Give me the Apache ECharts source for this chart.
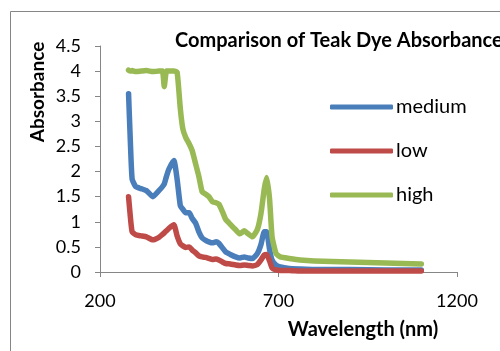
<!DOCTYPE html>
<html>
<head>
<meta charset="utf-8">
<script src="https://cdn.jsdelivr.net/npm/echarts@6/dist/echarts.min.js"></script>
<style>
  html, body { margin: 0; padding: 0; background: #fff; }
  #chart { width: 500px; height: 351px; }
</style>
</head>
<body>
<div id="chart"></div>
<script>
// wavelengths (nm) shared by all three series
var wavelengths = [280, 285, 290, 300, 315, 330, 348, 365, 375, 380, 386, 393, 407, 416, 425, 432, 440, 450, 458, 468, 477, 486, 496, 505, 515, 525, 533, 543, 552, 565, 580, 592, 604, 615, 627, 641, 651, 660, 667, 675, 682, 693, 705, 730, 760, 800, 900, 1000, 1100];

var medium = [3.55, 2.6, 1.85, 1.70, 1.66, 1.62, 1.50, 1.62, 1.70, 1.75, 1.90, 2.05, 2.22, 1.85, 1.32, 1.25, 1.18, 1.18, 1.07, 0.97, 0.80, 0.68, 0.63, 0.60, 0.58, 0.60, 0.57, 0.48, 0.40, 0.35, 0.30, 0.28, 0.30, 0.28, 0.27, 0.37, 0.55, 0.80, 0.80, 0.45, 0.24, 0.14, 0.10, 0.07, 0.06, 0.05, 0.05, 0.04, 0.04];

var low = [1.50, 1.10, 0.80, 0.74, 0.72, 0.70, 0.64, 0.69, 0.75, 0.78, 0.82, 0.87, 0.94, 0.72, 0.56, 0.52, 0.49, 0.50, 0.44, 0.38, 0.32, 0.30, 0.29, 0.27, 0.25, 0.26, 0.24, 0.20, 0.17, 0.16, 0.14, 0.13, 0.14, 0.13, 0.12, 0.15, 0.24, 0.34, 0.35, 0.22, 0.08, 0.04, 0.03, 0.03, 0.02, 0.02, 0.02, 0.02, 0.02];

var high = [4.02, 4.00, 4.01, 3.99, 4.00, 4.01, 3.99, 4.00, 4.00, 3.69, 4.00, 4.00, 4.00, 3.98, 3.25, 2.85, 2.68, 2.55, 2.42, 2.15, 1.90, 1.60, 1.55, 1.50, 1.40, 1.38, 1.35, 1.20, 1.05, 0.95, 0.84, 0.76, 0.82, 0.76, 0.70, 0.85, 1.17, 1.65, 1.88, 1.45, 0.70, 0.37, 0.30, 0.27, 0.24, 0.22, 0.20, 0.18, 0.16];

var xTicks = [200, 700, 1200];

function pairs(vals) {
  return wavelengths.map(function (w, i) { return [w, vals[i]]; });
}

var font = 'Lato, "Open Sans", sans-serif';
var axisGrey = '#868686';

function lineSeries(name, vals, color) {
  return {
    name: name,
    type: 'line',
    data: pairs(vals),
    showSymbol: false,
    smooth: 0.15,
    color: color,
    lineStyle: { width: 5.5, color: color, cap: 'round', join: 'round' }
  };
}

var chart = echarts.init(document.getElementById('chart'));
var option = {
  backgroundColor: '#fff',
  animation: false,
  textStyle: { fontFamily: font },
  title: {
    text: 'Comparison of Teak Dye Absorbance',
    left: 175,
    top: 31,
    padding: 0,
    textStyle: { fontFamily: font, fontSize: 20, fontWeight: 'bold', color: '#000' }
  },
  legend: {
    orient: 'vertical',
    left: 330,
    top: 97,
    itemWidth: 63,
    itemHeight: 5,
    itemGap: 24,
    icon: 'roundRect',
    padding: 0,
    textStyle: { fontFamily: font, fontSize: 20, lineHeight: 20, color: '#000', padding: [0, 0, 0, -2] },
    data: ['medium', 'low', 'high']
  },
  grid: { left: 100, right: 43, top: 46, bottom: 79, containLabel: false },
  xAxis: {
    type: 'value',
    min: xTicks[0],
    max: xTicks[xTicks.length - 1],
    interval: 500,
    axisLine: { show: true, lineStyle: { color: axisGrey } },
    axisTick: { show: true, length: 5, lineStyle: { color: axisGrey } },
    axisLabel: {
      fontFamily: font, fontSize: 18, color: '#000', margin: 20,
      formatter: function (v) { return String(v); }
    },
    splitLine: { show: false }
  },
  yAxis: {
    type: 'value',
    min: 0,
    max: 4.5,
    interval: 0.5,
    axisLine: { show: true, lineStyle: { color: axisGrey } },
    axisTick: { show: true, length: 5, lineStyle: { color: axisGrey } },
    axisLabel: { fontFamily: font, fontSize: 18, color: '#000', margin: 19 },
    splitLine: { show: false }
  },
  graphic: [
    {
      type: 'rect',
      shape: { x: 10.5, y: 11.5, width: 600, height: 400 },
      style: { fill: 'none', stroke: axisGrey, lineWidth: 1 },
      silent: true
    },
    {
      type: 'text',
      x: 38, y: 92,
      rotation: Math.PI / 2,
      style: {
        text: 'Absorbance',
        fontFamily: font, fontSize: 19, fontWeight: 'bold', fill: '#000',
        textAlign: 'center', textVerticalAlign: 'middle'
      }
    },
    {
      type: 'text',
      x: 363, y: 330,
      style: {
        text: 'Wavelength (nm)',
        fontFamily: font, fontSize: 20, fontWeight: 'bold', fill: '#000',
        textAlign: 'center', textVerticalAlign: 'middle'
      }
    }
  ],
  series: [
    lineSeries('medium', medium, '#4a7ebb'),
    lineSeries('low', low, '#be4b48'),
    lineSeries('high', high, '#98b954')
  ]
};
chart.setOption(option);
</script>
</body>
</html>
